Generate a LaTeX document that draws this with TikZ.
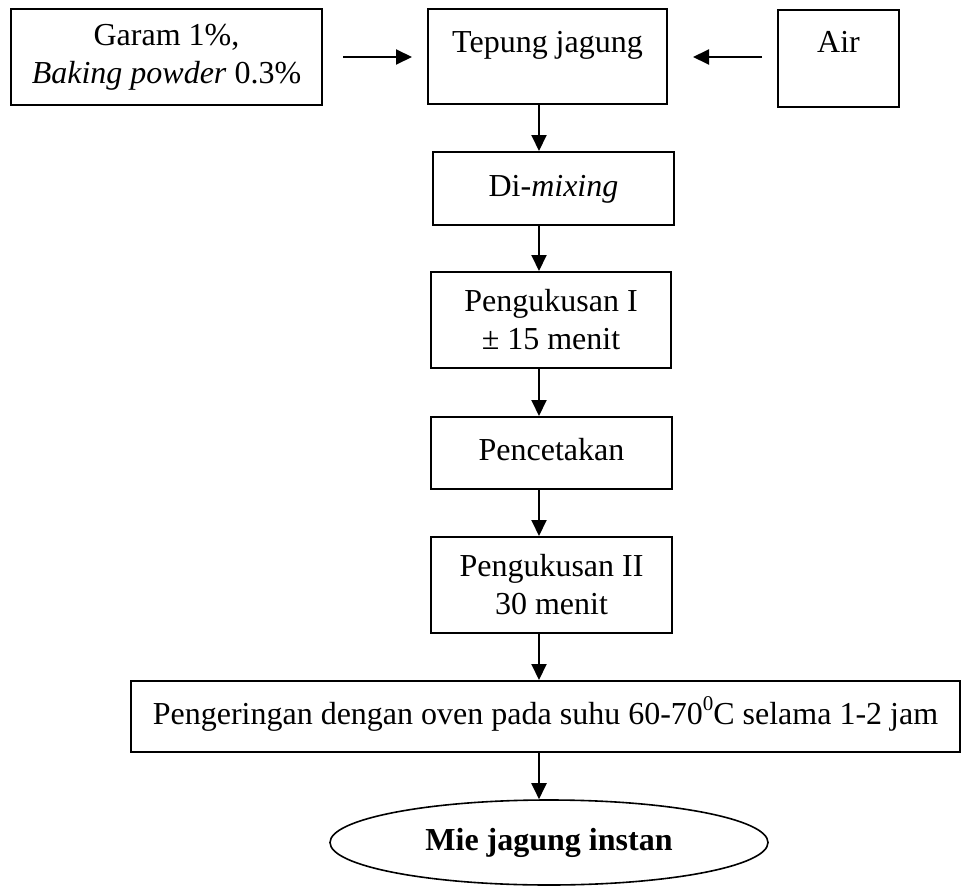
\documentclass[tikz,border=0pt]{standalone}
\usepackage{fontspec}
\setmainfont{Liberation Serif}
\usetikzlibrary{arrows.meta,shapes.geometric}
\begin{document}
\begin{tikzpicture}[x=1pt,y=-1pt,
  every node/.style={font=\fontsize{32}{38}\selectfont},
  box/.style={draw, line width=2pt, rectangle, inner sep=0pt, align=center},
  oneline/.style={text height=22pt, text depth=7pt},
  arr/.style={line width=2pt, -{Triangle[length=16pt,width=15pt]}}]
\useasboundingbox (0,0) rectangle (962,886);

% ingredients
\node[box, minimum width=311pt, minimum height=96pt] (salt) at (166.5,57)
  {Garam 1\%,\\\textit{Baking powder} 0.3\%};
\node[box, minimum width=239pt, minimum height=95pt, text height=22pt, text depth=31pt]
  (flour) at (547.5,56.5) {Tepung jagung};
\node[box, minimum width=121pt, minimum height=97pt, text height=22pt, text depth=35pt]
  (water) at (838.5,58.5) {Air};

% process steps
\node[box, oneline, minimum width=241pt, minimum height=73pt] (mix) at (553.5,188.5)
  {Di-\textit{mixing}};
\node[box, minimum width=240pt, minimum height=96pt] (steam1) at (551,320)
  {Pengukusan I\\± 15 menit};
\node[box, oneline, minimum width=241pt, minimum height=72pt] (mold) at (551.5,453)
  {Pencetakan};
\node[box, minimum width=241pt, minimum height=96pt] (steam2) at (551.5,585)
  {Pengukusan II\\30 menit};
\node[box, oneline, minimum width=829pt, minimum height=71pt] (dry) at (545.5,716.5)
  {Pengeringan dengan oven pada suhu 60-70\raisebox{0.42em}{\fontsize{21}{21}\selectfont 0}C selama 1-2 jam};
\node[ellipse, draw, line width=1.6pt, inner sep=0pt, oneline,
  minimum width=438pt, minimum height=85pt,
  font=\fontsize{32}{38}\selectfont\bfseries] (mie) at (549,842.5) {Mie jagung instan};

% main flow column
\coordinate (col) at (539,0);

% inputs into the flour
\draw[arr] ([xshift=20pt]salt.east) -- ([xshift=-15pt]salt.east -| flour.west);
\draw[arr] ([xshift=-15pt,yshift=1.5pt]water.west) -- ([xshift=25pt,yshift=1.5pt]water.west -| flour.east);

% process arrows
\draw[arr] (flour.south -| col) -- (mix.north -| col);
\draw[arr] (mix.south -| col) -- (steam1.north -| col);
\draw[arr] (steam1.south -| col) -- (mold.north -| col);
\draw[arr] (mold.south -| col) -- (steam2.north -| col);
\draw[arr] (steam2.south -| col) -- (dry.north -| col);
\draw[arr] (dry.south -| col) -- (mie.north -| col);
\end{tikzpicture}
\end{document}
